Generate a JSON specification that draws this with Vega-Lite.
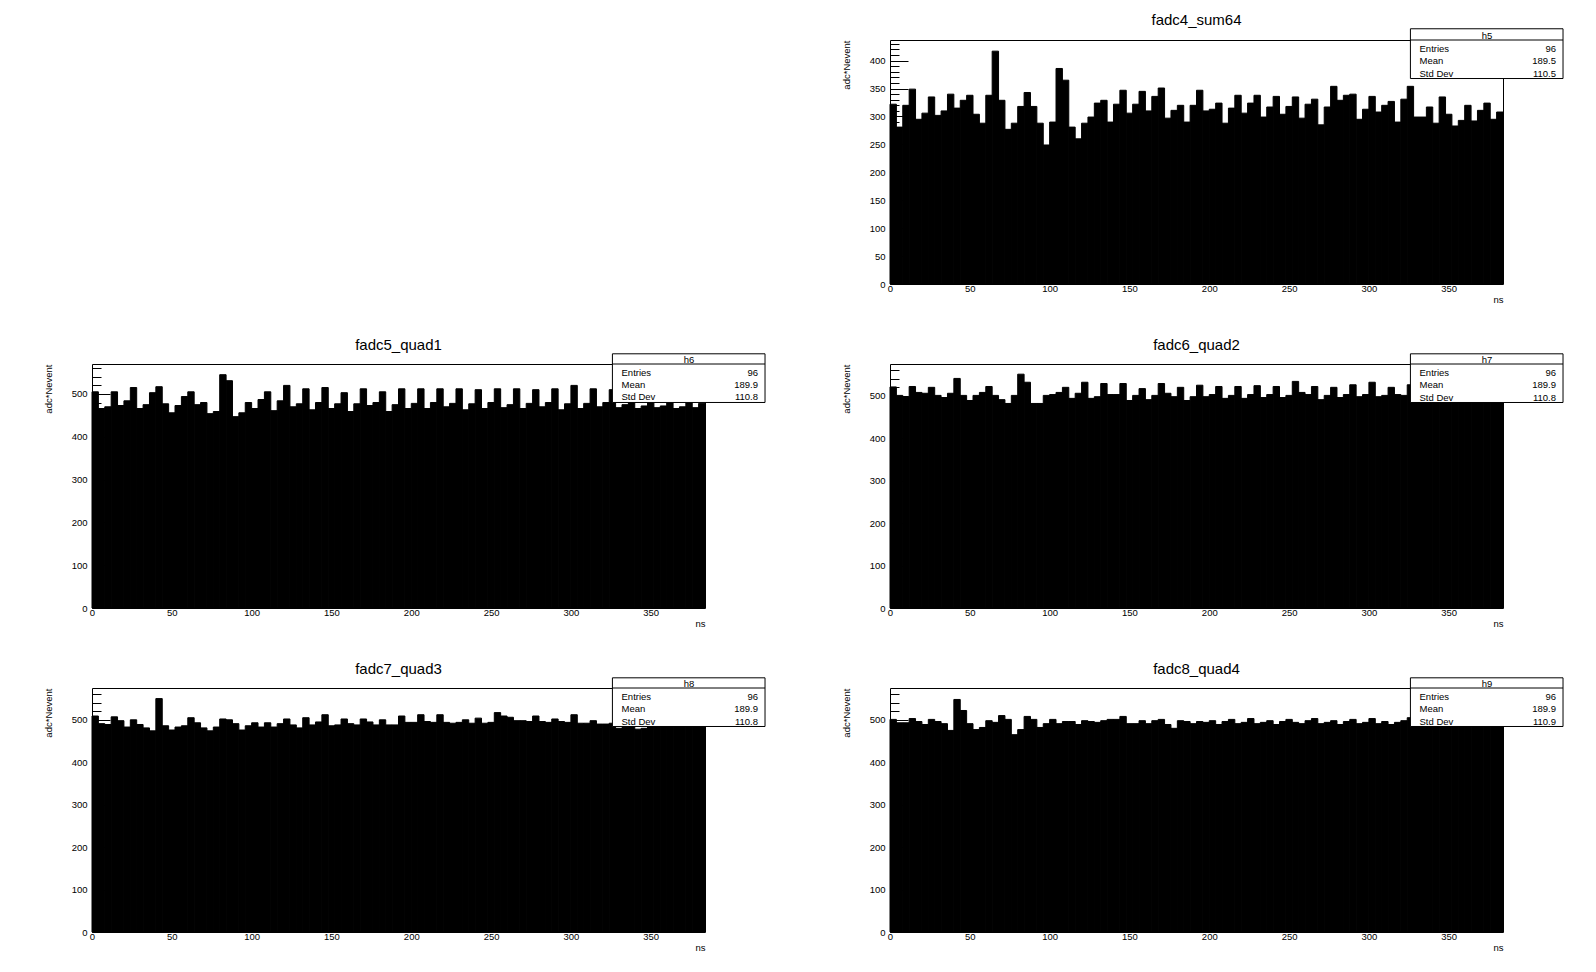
{
"$schema": "https://vega.github.io/schema/vega-lite/v6.json",
"background": "white",
"padding": {"left": 42, "top": 12, "right": 0, "bottom": 0},
"columns": 2,
"spacing": {"row": 80, "column": 185},
"bounds": "flush",
"datasets": {
"sum64": [
{"ns":0,"ns2":4,"adc":322},{"ns":4,"ns2":8,"adc":281},{"ns":8,"ns2":12,"adc":320},{"ns":12,"ns2":16,"adc":349},{"ns":16,"ns2":20,"adc":295},{"ns":20,"ns2":24,"adc":306},{"ns":24,"ns2":28,"adc":335},{"ns":28,"ns2":32,"adc":302},{"ns":32,"ns2":36,"adc":310},{"ns":36,"ns2":40,"adc":340},
{"ns":40,"ns2":44,"adc":315},{"ns":44,"ns2":48,"adc":329},{"ns":48,"ns2":52,"adc":338},{"ns":52,"ns2":56,"adc":304},{"ns":56,"ns2":60,"adc":288},{"ns":60,"ns2":64,"adc":338},{"ns":64,"ns2":68,"adc":417},{"ns":68,"ns2":72,"adc":329},{"ns":72,"ns2":76,"adc":277},{"ns":76,"ns2":80,"adc":288},
{"ns":80,"ns2":84,"adc":318},{"ns":84,"ns2":88,"adc":343},{"ns":88,"ns2":92,"adc":318},{"ns":92,"ns2":96,"adc":288},{"ns":96,"ns2":100,"adc":249},{"ns":100,"ns2":104,"adc":290},{"ns":104,"ns2":108,"adc":386},{"ns":108,"ns2":112,"adc":365},{"ns":112,"ns2":116,"adc":281},{"ns":116,"ns2":120,"adc":260},
{"ns":120,"ns2":124,"adc":288},{"ns":124,"ns2":128,"adc":299},{"ns":128,"ns2":132,"adc":324},{"ns":132,"ns2":136,"adc":329},{"ns":136,"ns2":140,"adc":290},{"ns":140,"ns2":144,"adc":322},{"ns":144,"ns2":148,"adc":347},{"ns":148,"ns2":152,"adc":306},{"ns":152,"ns2":156,"adc":322},{"ns":156,"ns2":160,"adc":345},
{"ns":160,"ns2":164,"adc":310},{"ns":164,"ns2":168,"adc":336},{"ns":168,"ns2":172,"adc":351},{"ns":172,"ns2":176,"adc":297},{"ns":176,"ns2":180,"adc":311},{"ns":180,"ns2":184,"adc":320},{"ns":184,"ns2":188,"adc":290},{"ns":188,"ns2":192,"adc":320},{"ns":192,"ns2":196,"adc":347},{"ns":196,"ns2":200,"adc":310},
{"ns":200,"ns2":204,"adc":313},{"ns":204,"ns2":208,"adc":324},{"ns":208,"ns2":212,"adc":288},{"ns":212,"ns2":216,"adc":315},{"ns":216,"ns2":220,"adc":338},{"ns":220,"ns2":224,"adc":306},{"ns":224,"ns2":228,"adc":324},{"ns":228,"ns2":232,"adc":338},{"ns":232,"ns2":236,"adc":299},{"ns":236,"ns2":240,"adc":317},
{"ns":240,"ns2":244,"adc":336},{"ns":244,"ns2":248,"adc":304},{"ns":248,"ns2":252,"adc":318},{"ns":252,"ns2":256,"adc":335},{"ns":256,"ns2":260,"adc":297},{"ns":260,"ns2":264,"adc":322},{"ns":264,"ns2":268,"adc":331},{"ns":268,"ns2":272,"adc":285},{"ns":272,"ns2":276,"adc":317},{"ns":276,"ns2":280,"adc":354},
{"ns":280,"ns2":284,"adc":329},{"ns":284,"ns2":288,"adc":338},{"ns":288,"ns2":292,"adc":340},{"ns":292,"ns2":296,"adc":295},{"ns":296,"ns2":300,"adc":313},{"ns":300,"ns2":304,"adc":336},{"ns":304,"ns2":308,"adc":308},{"ns":308,"ns2":312,"adc":320},{"ns":312,"ns2":316,"adc":327},{"ns":316,"ns2":320,"adc":290},
{"ns":320,"ns2":324,"adc":331},{"ns":324,"ns2":328,"adc":354},{"ns":328,"ns2":332,"adc":299},{"ns":332,"ns2":336,"adc":299},{"ns":336,"ns2":340,"adc":317},{"ns":340,"ns2":344,"adc":288},{"ns":344,"ns2":348,"adc":335},{"ns":348,"ns2":352,"adc":304},{"ns":352,"ns2":356,"adc":283},{"ns":356,"ns2":360,"adc":293},
{"ns":360,"ns2":364,"adc":320},{"ns":364,"ns2":368,"adc":292},{"ns":368,"ns2":372,"adc":311},{"ns":372,"ns2":376,"adc":324},{"ns":376,"ns2":380,"adc":295},{"ns":380,"ns2":384,"adc":308}
],
"quad1": [
{"ns":0,"ns2":4,"adc":505},{"ns":4,"ns2":8,"adc":466},{"ns":8,"ns2":12,"adc":470},{"ns":12,"ns2":16,"adc":505},{"ns":16,"ns2":20,"adc":473},{"ns":20,"ns2":24,"adc":484},{"ns":24,"ns2":28,"adc":515},{"ns":28,"ns2":32,"adc":466},{"ns":32,"ns2":36,"adc":475},{"ns":36,"ns2":40,"adc":503},
{"ns":40,"ns2":44,"adc":517},{"ns":44,"ns2":48,"adc":477},{"ns":48,"ns2":52,"adc":456},{"ns":52,"ns2":56,"adc":473},{"ns":56,"ns2":60,"adc":494},{"ns":60,"ns2":64,"adc":505},{"ns":64,"ns2":68,"adc":475},{"ns":68,"ns2":72,"adc":480},{"ns":72,"ns2":76,"adc":454},{"ns":76,"ns2":80,"adc":459},
{"ns":80,"ns2":84,"adc":545},{"ns":84,"ns2":88,"adc":531},{"ns":88,"ns2":92,"adc":447},{"ns":92,"ns2":96,"adc":456},{"ns":96,"ns2":100,"adc":480},{"ns":100,"ns2":104,"adc":466},{"ns":104,"ns2":108,"adc":487},{"ns":108,"ns2":112,"adc":505},{"ns":112,"ns2":116,"adc":461},{"ns":116,"ns2":120,"adc":484},
{"ns":120,"ns2":124,"adc":520},{"ns":124,"ns2":128,"adc":470},{"ns":128,"ns2":132,"adc":477},{"ns":132,"ns2":136,"adc":512},{"ns":136,"ns2":140,"adc":463},{"ns":140,"ns2":144,"adc":480},{"ns":144,"ns2":148,"adc":515},{"ns":148,"ns2":152,"adc":466},{"ns":152,"ns2":156,"adc":477},{"ns":156,"ns2":160,"adc":503},
{"ns":160,"ns2":164,"adc":459},{"ns":164,"ns2":168,"adc":477},{"ns":168,"ns2":172,"adc":512},{"ns":172,"ns2":176,"adc":473},{"ns":176,"ns2":180,"adc":480},{"ns":180,"ns2":184,"adc":505},{"ns":184,"ns2":188,"adc":459},{"ns":188,"ns2":192,"adc":475},{"ns":192,"ns2":196,"adc":512},{"ns":196,"ns2":200,"adc":466},
{"ns":200,"ns2":204,"adc":478},{"ns":204,"ns2":208,"adc":512},{"ns":208,"ns2":212,"adc":466},{"ns":212,"ns2":216,"adc":480},{"ns":216,"ns2":220,"adc":512},{"ns":220,"ns2":224,"adc":470},{"ns":224,"ns2":228,"adc":478},{"ns":228,"ns2":232,"adc":512},{"ns":232,"ns2":236,"adc":463},{"ns":236,"ns2":240,"adc":477},
{"ns":240,"ns2":244,"adc":510},{"ns":244,"ns2":248,"adc":466},{"ns":248,"ns2":252,"adc":480},{"ns":252,"ns2":256,"adc":512},{"ns":256,"ns2":260,"adc":468},{"ns":260,"ns2":264,"adc":475},{"ns":264,"ns2":268,"adc":512},{"ns":268,"ns2":272,"adc":466},{"ns":272,"ns2":276,"adc":478},{"ns":276,"ns2":280,"adc":510},
{"ns":280,"ns2":284,"adc":470},{"ns":284,"ns2":288,"adc":480},{"ns":288,"ns2":292,"adc":512},{"ns":292,"ns2":296,"adc":463},{"ns":296,"ns2":300,"adc":477},{"ns":300,"ns2":304,"adc":520},{"ns":304,"ns2":308,"adc":466},{"ns":308,"ns2":312,"adc":478},{"ns":312,"ns2":316,"adc":512},{"ns":316,"ns2":320,"adc":470},
{"ns":320,"ns2":324,"adc":480},{"ns":324,"ns2":328,"adc":510},{"ns":328,"ns2":332,"adc":468},{"ns":332,"ns2":336,"adc":475},{"ns":336,"ns2":340,"adc":510},{"ns":340,"ns2":344,"adc":466},{"ns":344,"ns2":348,"adc":472},{"ns":348,"ns2":352,"adc":510},{"ns":352,"ns2":356,"adc":468},{"ns":356,"ns2":360,"adc":472},
{"ns":360,"ns2":364,"adc":510},{"ns":364,"ns2":368,"adc":466},{"ns":368,"ns2":372,"adc":470},{"ns":372,"ns2":376,"adc":510},{"ns":376,"ns2":380,"adc":468},{"ns":380,"ns2":384,"adc":478}
],
"quad2": [
{"ns":0,"ns2":4,"adc":521},{"ns":4,"ns2":8,"adc":501},{"ns":8,"ns2":12,"adc":498},{"ns":12,"ns2":16,"adc":522},{"ns":16,"ns2":20,"adc":508},{"ns":20,"ns2":24,"adc":506},{"ns":24,"ns2":28,"adc":520},{"ns":28,"ns2":32,"adc":501},{"ns":32,"ns2":36,"adc":496},{"ns":36,"ns2":40,"adc":506},
{"ns":40,"ns2":44,"adc":541},{"ns":44,"ns2":48,"adc":501},{"ns":48,"ns2":52,"adc":489},{"ns":52,"ns2":56,"adc":501},{"ns":56,"ns2":60,"adc":508},{"ns":60,"ns2":64,"adc":522},{"ns":64,"ns2":68,"adc":501},{"ns":68,"ns2":72,"adc":491},{"ns":72,"ns2":76,"adc":482},{"ns":76,"ns2":80,"adc":501},
{"ns":80,"ns2":84,"adc":551},{"ns":84,"ns2":88,"adc":532},{"ns":88,"ns2":92,"adc":482},{"ns":92,"ns2":96,"adc":482},{"ns":96,"ns2":100,"adc":501},{"ns":100,"ns2":104,"adc":503},{"ns":104,"ns2":108,"adc":508},{"ns":108,"ns2":112,"adc":520},{"ns":112,"ns2":116,"adc":494},{"ns":116,"ns2":120,"adc":506},
{"ns":120,"ns2":124,"adc":532},{"ns":124,"ns2":128,"adc":494},{"ns":128,"ns2":132,"adc":498},{"ns":132,"ns2":136,"adc":529},{"ns":136,"ns2":140,"adc":503},{"ns":140,"ns2":144,"adc":503},{"ns":144,"ns2":148,"adc":529},{"ns":148,"ns2":152,"adc":489},{"ns":152,"ns2":156,"adc":501},{"ns":156,"ns2":160,"adc":517},
{"ns":160,"ns2":164,"adc":491},{"ns":164,"ns2":168,"adc":501},{"ns":168,"ns2":172,"adc":529},{"ns":172,"ns2":176,"adc":506},{"ns":176,"ns2":180,"adc":498},{"ns":180,"ns2":184,"adc":520},{"ns":184,"ns2":188,"adc":489},{"ns":188,"ns2":192,"adc":498},{"ns":192,"ns2":196,"adc":525},{"ns":196,"ns2":200,"adc":498},
{"ns":200,"ns2":204,"adc":503},{"ns":204,"ns2":208,"adc":522},{"ns":208,"ns2":212,"adc":494},{"ns":212,"ns2":216,"adc":501},{"ns":216,"ns2":220,"adc":522},{"ns":220,"ns2":224,"adc":494},{"ns":224,"ns2":228,"adc":503},{"ns":228,"ns2":232,"adc":524},{"ns":232,"ns2":236,"adc":496},{"ns":236,"ns2":240,"adc":503},
{"ns":240,"ns2":244,"adc":522},{"ns":244,"ns2":248,"adc":496},{"ns":248,"ns2":252,"adc":501},{"ns":252,"ns2":256,"adc":534},{"ns":256,"ns2":260,"adc":508},{"ns":260,"ns2":264,"adc":503},{"ns":264,"ns2":268,"adc":522},{"ns":268,"ns2":272,"adc":491},{"ns":272,"ns2":276,"adc":501},{"ns":276,"ns2":280,"adc":520},
{"ns":280,"ns2":284,"adc":496},{"ns":284,"ns2":288,"adc":503},{"ns":288,"ns2":292,"adc":526},{"ns":292,"ns2":296,"adc":498},{"ns":296,"ns2":300,"adc":503},{"ns":300,"ns2":304,"adc":532},{"ns":304,"ns2":308,"adc":498},{"ns":308,"ns2":312,"adc":501},{"ns":312,"ns2":316,"adc":520},{"ns":316,"ns2":320,"adc":503},
{"ns":320,"ns2":324,"adc":501},{"ns":324,"ns2":328,"adc":526},{"ns":328,"ns2":332,"adc":498},{"ns":332,"ns2":336,"adc":503},{"ns":336,"ns2":340,"adc":522},{"ns":340,"ns2":344,"adc":496},{"ns":344,"ns2":348,"adc":501},{"ns":348,"ns2":352,"adc":522},{"ns":352,"ns2":356,"adc":498},{"ns":356,"ns2":360,"adc":503},
{"ns":360,"ns2":364,"adc":520},{"ns":364,"ns2":368,"adc":496},{"ns":368,"ns2":372,"adc":501},{"ns":372,"ns2":376,"adc":522},{"ns":376,"ns2":380,"adc":498},{"ns":380,"ns2":384,"adc":501}
],
"quad3": [
{"ns":0,"ns2":4,"adc":509},{"ns":4,"ns2":8,"adc":491},{"ns":8,"ns2":12,"adc":489},{"ns":12,"ns2":16,"adc":507},{"ns":16,"ns2":20,"adc":498},{"ns":20,"ns2":24,"adc":483},{"ns":24,"ns2":28,"adc":500},{"ns":28,"ns2":32,"adc":489},{"ns":32,"ns2":36,"adc":481},{"ns":36,"ns2":40,"adc":474},
{"ns":40,"ns2":44,"adc":550},{"ns":44,"ns2":48,"adc":486},{"ns":48,"ns2":52,"adc":476},{"ns":52,"ns2":56,"adc":483},{"ns":56,"ns2":60,"adc":486},{"ns":60,"ns2":64,"adc":505},{"ns":64,"ns2":68,"adc":493},{"ns":68,"ns2":72,"adc":481},{"ns":72,"ns2":76,"adc":474},{"ns":76,"ns2":80,"adc":483},
{"ns":80,"ns2":84,"adc":502},{"ns":84,"ns2":88,"adc":500},{"ns":88,"ns2":92,"adc":491},{"ns":92,"ns2":96,"adc":476},{"ns":96,"ns2":100,"adc":486},{"ns":100,"ns2":104,"adc":493},{"ns":104,"ns2":108,"adc":483},{"ns":108,"ns2":112,"adc":493},{"ns":112,"ns2":116,"adc":483},{"ns":116,"ns2":120,"adc":491},
{"ns":120,"ns2":124,"adc":502},{"ns":124,"ns2":128,"adc":488},{"ns":128,"ns2":132,"adc":481},{"ns":132,"ns2":136,"adc":505},{"ns":136,"ns2":140,"adc":488},{"ns":140,"ns2":144,"adc":495},{"ns":144,"ns2":148,"adc":512},{"ns":148,"ns2":152,"adc":486},{"ns":152,"ns2":156,"adc":488},{"ns":156,"ns2":160,"adc":502},
{"ns":160,"ns2":164,"adc":491},{"ns":164,"ns2":168,"adc":488},{"ns":168,"ns2":172,"adc":502},{"ns":172,"ns2":176,"adc":495},{"ns":176,"ns2":180,"adc":488},{"ns":180,"ns2":184,"adc":500},{"ns":184,"ns2":188,"adc":488},{"ns":188,"ns2":192,"adc":488},{"ns":192,"ns2":196,"adc":509},{"ns":196,"ns2":200,"adc":494},
{"ns":200,"ns2":204,"adc":494},{"ns":204,"ns2":208,"adc":512},{"ns":208,"ns2":212,"adc":496},{"ns":212,"ns2":216,"adc":494},{"ns":216,"ns2":220,"adc":512},{"ns":220,"ns2":224,"adc":494},{"ns":224,"ns2":228,"adc":492},{"ns":228,"ns2":232,"adc":494},{"ns":232,"ns2":236,"adc":500},{"ns":236,"ns2":240,"adc":492},
{"ns":240,"ns2":244,"adc":504},{"ns":244,"ns2":248,"adc":492},{"ns":248,"ns2":252,"adc":494},{"ns":252,"ns2":256,"adc":517},{"ns":256,"ns2":260,"adc":509},{"ns":260,"ns2":264,"adc":506},{"ns":264,"ns2":268,"adc":498},{"ns":268,"ns2":272,"adc":498},{"ns":272,"ns2":276,"adc":496},{"ns":276,"ns2":280,"adc":509},
{"ns":280,"ns2":284,"adc":496},{"ns":284,"ns2":288,"adc":494},{"ns":288,"ns2":292,"adc":502},{"ns":292,"ns2":296,"adc":496},{"ns":296,"ns2":300,"adc":494},{"ns":300,"ns2":304,"adc":512},{"ns":304,"ns2":308,"adc":492},{"ns":308,"ns2":312,"adc":492},{"ns":312,"ns2":316,"adc":498},{"ns":316,"ns2":320,"adc":490},
{"ns":320,"ns2":324,"adc":490},{"ns":324,"ns2":328,"adc":492},{"ns":328,"ns2":332,"adc":480},{"ns":332,"ns2":336,"adc":482},{"ns":336,"ns2":340,"adc":490},{"ns":340,"ns2":344,"adc":478},{"ns":344,"ns2":348,"adc":480},{"ns":348,"ns2":352,"adc":490},{"ns":352,"ns2":356,"adc":488},{"ns":356,"ns2":360,"adc":486},
{"ns":360,"ns2":364,"adc":490},{"ns":364,"ns2":368,"adc":488},{"ns":368,"ns2":372,"adc":486},{"ns":372,"ns2":376,"adc":490},{"ns":376,"ns2":380,"adc":488},{"ns":380,"ns2":384,"adc":486}
],
"quad4": [
{"ns":0,"ns2":4,"adc":501},{"ns":4,"ns2":8,"adc":493},{"ns":8,"ns2":12,"adc":493},{"ns":12,"ns2":16,"adc":503},{"ns":16,"ns2":20,"adc":496},{"ns":20,"ns2":24,"adc":489},{"ns":24,"ns2":28,"adc":501},{"ns":28,"ns2":32,"adc":496},{"ns":32,"ns2":36,"adc":491},{"ns":36,"ns2":40,"adc":475},
{"ns":40,"ns2":44,"adc":548},{"ns":44,"ns2":48,"adc":522},{"ns":48,"ns2":52,"adc":491},{"ns":52,"ns2":56,"adc":477},{"ns":56,"ns2":60,"adc":482},{"ns":60,"ns2":64,"adc":498},{"ns":64,"ns2":68,"adc":494},{"ns":68,"ns2":72,"adc":510},{"ns":72,"ns2":76,"adc":501},{"ns":76,"ns2":80,"adc":465},
{"ns":80,"ns2":84,"adc":477},{"ns":84,"ns2":88,"adc":508},{"ns":88,"ns2":92,"adc":501},{"ns":92,"ns2":96,"adc":482},{"ns":96,"ns2":100,"adc":491},{"ns":100,"ns2":104,"adc":501},{"ns":104,"ns2":108,"adc":491},{"ns":108,"ns2":112,"adc":496},{"ns":112,"ns2":116,"adc":496},{"ns":116,"ns2":120,"adc":489},
{"ns":120,"ns2":124,"adc":498},{"ns":124,"ns2":128,"adc":496},{"ns":128,"ns2":132,"adc":494},{"ns":132,"ns2":136,"adc":498},{"ns":136,"ns2":140,"adc":501},{"ns":140,"ns2":144,"adc":501},{"ns":144,"ns2":148,"adc":508},{"ns":148,"ns2":152,"adc":491},{"ns":152,"ns2":156,"adc":491},{"ns":156,"ns2":160,"adc":498},
{"ns":160,"ns2":164,"adc":491},{"ns":164,"ns2":168,"adc":498},{"ns":168,"ns2":172,"adc":501},{"ns":172,"ns2":176,"adc":489},{"ns":176,"ns2":180,"adc":480},{"ns":180,"ns2":184,"adc":498},{"ns":184,"ns2":188,"adc":496},{"ns":188,"ns2":192,"adc":491},{"ns":192,"ns2":196,"adc":496},{"ns":196,"ns2":200,"adc":494},
{"ns":200,"ns2":204,"adc":498},{"ns":204,"ns2":208,"adc":489},{"ns":208,"ns2":212,"adc":496},{"ns":212,"ns2":216,"adc":501},{"ns":216,"ns2":220,"adc":491},{"ns":220,"ns2":224,"adc":494},{"ns":224,"ns2":228,"adc":503},{"ns":228,"ns2":232,"adc":491},{"ns":232,"ns2":236,"adc":494},{"ns":236,"ns2":240,"adc":498},
{"ns":240,"ns2":244,"adc":489},{"ns":244,"ns2":248,"adc":496},{"ns":248,"ns2":252,"adc":501},{"ns":252,"ns2":256,"adc":494},{"ns":256,"ns2":260,"adc":491},{"ns":260,"ns2":264,"adc":498},{"ns":264,"ns2":268,"adc":503},{"ns":268,"ns2":272,"adc":491},{"ns":272,"ns2":276,"adc":494},{"ns":276,"ns2":280,"adc":498},
{"ns":280,"ns2":284,"adc":489},{"ns":284,"ns2":288,"adc":496},{"ns":288,"ns2":292,"adc":501},{"ns":292,"ns2":296,"adc":491},{"ns":296,"ns2":300,"adc":494},{"ns":300,"ns2":304,"adc":503},{"ns":304,"ns2":308,"adc":491},{"ns":308,"ns2":312,"adc":496},{"ns":312,"ns2":316,"adc":489},{"ns":316,"ns2":320,"adc":494},
{"ns":320,"ns2":324,"adc":498},{"ns":324,"ns2":328,"adc":505},{"ns":328,"ns2":332,"adc":491},{"ns":332,"ns2":336,"adc":494},{"ns":336,"ns2":340,"adc":498},{"ns":340,"ns2":344,"adc":494},{"ns":344,"ns2":348,"adc":496},{"ns":348,"ns2":352,"adc":498},{"ns":352,"ns2":356,"adc":494},{"ns":356,"ns2":360,"adc":496},
{"ns":360,"ns2":364,"adc":498},{"ns":364,"ns2":368,"adc":494},{"ns":368,"ns2":372,"adc":496},{"ns":372,"ns2":376,"adc":498},{"ns":376,"ns2":380,"adc":494},{"ns":380,"ns2":384,"adc":496}
]
},
"concat": [
{"width": 613, "height": 244, "view": {"stroke": null}, "data": {"values": [{}]}, "mark": {"type": "point", "opacity": 0}, "encoding": {}},
{"width": 613, "height": 244, "title": "fadc4_sum64", "resolve": {"axis": {"x": "independent", "y": "independent"}},
 "layer": [
  {"data": {"name": "sum64"}, "mark": {"type": "rect", "fill": "black", "stroke": "black", "strokeWidth": 1},
   "encoding": {
    "x": {"field": "ns", "type": "quantitative", "scale": {"domain": [0, 384], "nice": false, "zero": false}, "axis": {"title": "ns", "values": [0,50,100,150,200,250,300,350], "ticks": false, "labelPadding": -1, "titleAnchor": "end", "titleAlign": "right", "titlePadding": 2}},
    "x2": {"field": "ns2"},
    "y": {"field": "adc", "type": "quantitative", "scale": {"domain": [0, 437], "nice": false}, "axis": {"orient": "left", "title": "adc*Nevent", "values": [0,50,100,150,200,250,300,350,400], "tickSize": -18, "labelPadding": 23, "titleAnchor": "end", "titlePadding": 18}}}},
  {"data": {"name": "sum64"}, "mark": {"type": "rule", "opacity": 0},
   "encoding": {"y": {"field": "adc", "type": "quantitative", "axis": {"orient": "left", "title": null, "labels": false, "tickSize": -9, "values": [10,20,30,40,60,70,80,90,110,120,130,140,160,170,180,190,210,220,230,240,260,270,280,290,310,320,330,340,360,370,380,390,410,420,430]}}}},
  {"data": {"values": [{"name": "h5", "entries": 96, "mean": 189.5, "sd": 110.5}]},
   "layer": [
    {"mark": {"type": "rect", "fill": "white", "stroke": "black", "strokeWidth": 1}, "encoding": {"x": {"datum": 326, "type": "quantitative", "axis": null}, "x2": {"datum": 421.6}, "y": {"datum": 457.1, "type": "quantitative", "axis": null}, "y2": {"datum": 368.0}}},
    {"mark": {"type": "rule", "color": "black", "strokeWidth": 1}, "encoding": {"x": {"datum": 326, "type": "quantitative", "axis": null}, "x2": {"datum": 421.6}, "y": {"datum": 437, "type": "quantitative", "axis": null}}},
    {"mark": {"type": "text", "align": "center", "baseline": "middle", "fontSize": 9.5}, "encoding": {"x": {"datum": 374, "type": "quantitative", "axis": null}, "y": {"datum": 444.3, "type": "quantitative", "axis": null}, "text": {"field": "name"}}},
    {"mark": {"type": "text", "align": "left", "baseline": "middle", "fontSize": 9.5}, "encoding": {"x": {"datum": 331.7, "type": "quantitative", "axis": null}, "y": {"datum": 420.9, "type": "quantitative", "axis": null}, "text": {"value": "Entries"}}},
    {"mark": {"type": "text", "align": "left", "baseline": "middle", "fontSize": 9.5}, "encoding": {"x": {"datum": 331.7, "type": "quantitative", "axis": null}, "y": {"datum": 399.0, "type": "quantitative", "axis": null}, "text": {"value": "Mean"}}},
    {"mark": {"type": "text", "align": "left", "baseline": "middle", "fontSize": 9.5}, "encoding": {"x": {"datum": 331.7, "type": "quantitative", "axis": null}, "y": {"datum": 377.0, "type": "quantitative", "axis": null}, "text": {"value": "Std Dev"}}},
    {"mark": {"type": "text", "align": "right", "baseline": "middle", "fontSize": 9.5}, "encoding": {"x": {"datum": 417.2, "type": "quantitative", "axis": null}, "y": {"datum": 420.9, "type": "quantitative", "axis": null}, "text": {"field": "entries", "type": "quantitative", "format": "d"}}},
    {"mark": {"type": "text", "align": "right", "baseline": "middle", "fontSize": 9.5}, "encoding": {"x": {"datum": 417.2, "type": "quantitative", "axis": null}, "y": {"datum": 399.0, "type": "quantitative", "axis": null}, "text": {"field": "mean", "type": "quantitative", "format": ".1f"}}},
    {"mark": {"type": "text", "align": "right", "baseline": "middle", "fontSize": 9.5}, "encoding": {"x": {"datum": 417.2, "type": "quantitative", "axis": null}, "y": {"datum": 377.0, "type": "quantitative", "axis": null}, "text": {"field": "sd", "type": "quantitative", "format": ".1f"}}}
   ]}
 ]},
{"width": 613, "height": 244, "title": "fadc5_quad1", "resolve": {"axis": {"x": "independent", "y": "independent"}},
 "layer": [
  {"data": {"name": "quad1"}, "mark": {"type": "rect", "fill": "black", "stroke": "black", "strokeWidth": 1},
   "encoding": {
    "x": {"field": "ns", "type": "quantitative", "scale": {"domain": [0, 384], "nice": false, "zero": false}, "axis": {"title": "ns", "values": [0,50,100,150,200,250,300,350], "ticks": false, "labelPadding": -1, "titleAnchor": "end", "titleAlign": "right", "titlePadding": 2}},
    "x2": {"field": "ns2"},
    "y": {"field": "adc", "type": "quantitative", "scale": {"domain": [0, 570], "nice": false}, "axis": {"orient": "left", "title": "adc*Nevent", "values": [0,100,200,300,400,500], "tickSize": -18, "labelPadding": 23, "titleAnchor": "end", "titlePadding": 18}}}},
  {"data": {"name": "quad1"}, "mark": {"type": "rule", "opacity": 0},
   "encoding": {"y": {"field": "adc", "type": "quantitative", "axis": {"orient": "left", "title": null, "labels": false, "tickSize": -9, "values": [20,40,60,80,120,140,160,180,220,240,260,280,320,340,360,380,420,440,460,480,520,540,560]}}}},
  {"data": {"values": [{"name": "h6", "entries": 96, "mean": 189.9, "sd": 110.8}]},
   "layer": [
    {"mark": {"type": "rect", "fill": "white", "stroke": "black", "strokeWidth": 1}, "encoding": {"x": {"datum": 326, "type": "quantitative", "axis": null}, "x2": {"datum": 421.6}, "y": {"datum": 593.8, "type": "quantitative", "axis": null}, "y2": {"datum": 480.1}}},
    {"mark": {"type": "rule", "color": "black", "strokeWidth": 1}, "encoding": {"x": {"datum": 326, "type": "quantitative", "axis": null}, "x2": {"datum": 421.6}, "y": {"datum": 570, "type": "quantitative", "axis": null}}},
    {"mark": {"type": "text", "align": "center", "baseline": "middle", "fontSize": 9.5}, "encoding": {"x": {"datum": 374, "type": "quantitative", "axis": null}, "y": {"datum": 579.5, "type": "quantitative", "axis": null}, "text": {"field": "name"}}},
    {"mark": {"type": "text", "align": "left", "baseline": "middle", "fontSize": 9.5}, "encoding": {"x": {"datum": 331.7, "type": "quantitative", "axis": null}, "y": {"datum": 549.0, "type": "quantitative", "axis": null}, "text": {"value": "Entries"}}},
    {"mark": {"type": "text", "align": "left", "baseline": "middle", "fontSize": 9.5}, "encoding": {"x": {"datum": 331.7, "type": "quantitative", "axis": null}, "y": {"datum": 520.5, "type": "quantitative", "axis": null}, "text": {"value": "Mean"}}},
    {"mark": {"type": "text", "align": "left", "baseline": "middle", "fontSize": 9.5}, "encoding": {"x": {"datum": 331.7, "type": "quantitative", "axis": null}, "y": {"datum": 491.8, "type": "quantitative", "axis": null}, "text": {"value": "Std Dev"}}},
    {"mark": {"type": "text", "align": "right", "baseline": "middle", "fontSize": 9.5}, "encoding": {"x": {"datum": 417.2, "type": "quantitative", "axis": null}, "y": {"datum": 549.0, "type": "quantitative", "axis": null}, "text": {"field": "entries", "type": "quantitative", "format": "d"}}},
    {"mark": {"type": "text", "align": "right", "baseline": "middle", "fontSize": 9.5}, "encoding": {"x": {"datum": 417.2, "type": "quantitative", "axis": null}, "y": {"datum": 520.5, "type": "quantitative", "axis": null}, "text": {"field": "mean", "type": "quantitative", "format": ".1f"}}},
    {"mark": {"type": "text", "align": "right", "baseline": "middle", "fontSize": 9.5}, "encoding": {"x": {"datum": 417.2, "type": "quantitative", "axis": null}, "y": {"datum": 491.8, "type": "quantitative", "axis": null}, "text": {"field": "sd", "type": "quantitative", "format": ".1f"}}}
   ]}
 ]},
{"width": 613, "height": 244, "title": "fadc6_quad2", "resolve": {"axis": {"x": "independent", "y": "independent"}},
 "layer": [
  {"data": {"name": "quad2"}, "mark": {"type": "rect", "fill": "black", "stroke": "black", "strokeWidth": 1},
   "encoding": {
    "x": {"field": "ns", "type": "quantitative", "scale": {"domain": [0, 384], "nice": false, "zero": false}, "axis": {"title": "ns", "values": [0,50,100,150,200,250,300,350], "ticks": false, "labelPadding": -1, "titleAnchor": "end", "titleAlign": "right", "titlePadding": 2}},
    "x2": {"field": "ns2"},
    "y": {"field": "adc", "type": "quantitative", "scale": {"domain": [0, 575], "nice": false}, "axis": {"orient": "left", "title": "adc*Nevent", "values": [0,100,200,300,400,500], "tickSize": -18, "labelPadding": 23, "titleAnchor": "end", "titlePadding": 18}}}},
  {"data": {"name": "quad2"}, "mark": {"type": "rule", "opacity": 0},
   "encoding": {"y": {"field": "adc", "type": "quantitative", "axis": {"orient": "left", "title": null, "labels": false, "tickSize": -9, "values": [20,40,60,80,120,140,160,180,220,240,260,280,320,340,360,380,420,440,460,480,520,540,560]}}}},
  {"data": {"values": [{"name": "h7", "entries": 96, "mean": 189.9, "sd": 110.8}]},
   "layer": [
    {"mark": {"type": "rect", "fill": "white", "stroke": "black", "strokeWidth": 1}, "encoding": {"x": {"datum": 326, "type": "quantitative", "axis": null}, "x2": {"datum": 421.6}, "y": {"datum": 599, "type": "quantitative", "axis": null}, "y2": {"datum": 484.3}}},
    {"mark": {"type": "rule", "color": "black", "strokeWidth": 1}, "encoding": {"x": {"datum": 326, "type": "quantitative", "axis": null}, "x2": {"datum": 421.6}, "y": {"datum": 575, "type": "quantitative", "axis": null}}},
    {"mark": {"type": "text", "align": "center", "baseline": "middle", "fontSize": 9.5}, "encoding": {"x": {"datum": 374, "type": "quantitative", "axis": null}, "y": {"datum": 584.7, "type": "quantitative", "axis": null}, "text": {"field": "name"}}},
    {"mark": {"type": "text", "align": "left", "baseline": "middle", "fontSize": 9.5}, "encoding": {"x": {"datum": 331.7, "type": "quantitative", "axis": null}, "y": {"datum": 553.7, "type": "quantitative", "axis": null}, "text": {"value": "Entries"}}},
    {"mark": {"type": "text", "align": "left", "baseline": "middle", "fontSize": 9.5}, "encoding": {"x": {"datum": 331.7, "type": "quantitative", "axis": null}, "y": {"datum": 525.0, "type": "quantitative", "axis": null}, "text": {"value": "Mean"}}},
    {"mark": {"type": "text", "align": "left", "baseline": "middle", "fontSize": 9.5}, "encoding": {"x": {"datum": 331.7, "type": "quantitative", "axis": null}, "y": {"datum": 496.0, "type": "quantitative", "axis": null}, "text": {"value": "Std Dev"}}},
    {"mark": {"type": "text", "align": "right", "baseline": "middle", "fontSize": 9.5}, "encoding": {"x": {"datum": 417.2, "type": "quantitative", "axis": null}, "y": {"datum": 553.7, "type": "quantitative", "axis": null}, "text": {"field": "entries", "type": "quantitative", "format": "d"}}},
    {"mark": {"type": "text", "align": "right", "baseline": "middle", "fontSize": 9.5}, "encoding": {"x": {"datum": 417.2, "type": "quantitative", "axis": null}, "y": {"datum": 525.0, "type": "quantitative", "axis": null}, "text": {"field": "mean", "type": "quantitative", "format": ".1f"}}},
    {"mark": {"type": "text", "align": "right", "baseline": "middle", "fontSize": 9.5}, "encoding": {"x": {"datum": 417.2, "type": "quantitative", "axis": null}, "y": {"datum": 496.0, "type": "quantitative", "axis": null}, "text": {"field": "sd", "type": "quantitative", "format": ".1f"}}}
   ]}
 ]},
{"width": 613, "height": 244, "title": "fadc7_quad3", "resolve": {"axis": {"x": "independent", "y": "independent"}},
 "layer": [
  {"data": {"name": "quad3"}, "mark": {"type": "rect", "fill": "black", "stroke": "black", "strokeWidth": 1},
   "encoding": {
    "x": {"field": "ns", "type": "quantitative", "scale": {"domain": [0, 384], "nice": false, "zero": false}, "axis": {"title": "ns", "values": [0,50,100,150,200,250,300,350], "ticks": false, "labelPadding": -1, "titleAnchor": "end", "titleAlign": "right", "titlePadding": 2}},
    "x2": {"field": "ns2"},
    "y": {"field": "adc", "type": "quantitative", "scale": {"domain": [0, 575], "nice": false}, "axis": {"orient": "left", "title": "adc*Nevent", "values": [0,100,200,300,400,500], "tickSize": -18, "labelPadding": 23, "titleAnchor": "end", "titlePadding": 18}}}},
  {"data": {"name": "quad3"}, "mark": {"type": "rule", "opacity": 0},
   "encoding": {"y": {"field": "adc", "type": "quantitative", "axis": {"orient": "left", "title": null, "labels": false, "tickSize": -9, "values": [20,40,60,80,120,140,160,180,220,240,260,280,320,340,360,380,420,440,460,480,520,540,560]}}}},
  {"data": {"values": [{"name": "h8", "entries": 96, "mean": 189.9, "sd": 110.8}]},
   "layer": [
    {"mark": {"type": "rect", "fill": "white", "stroke": "black", "strokeWidth": 1}, "encoding": {"x": {"datum": 326, "type": "quantitative", "axis": null}, "x2": {"datum": 421.6}, "y": {"datum": 599, "type": "quantitative", "axis": null}, "y2": {"datum": 484.3}}},
    {"mark": {"type": "rule", "color": "black", "strokeWidth": 1}, "encoding": {"x": {"datum": 326, "type": "quantitative", "axis": null}, "x2": {"datum": 421.6}, "y": {"datum": 575, "type": "quantitative", "axis": null}}},
    {"mark": {"type": "text", "align": "center", "baseline": "middle", "fontSize": 9.5}, "encoding": {"x": {"datum": 374, "type": "quantitative", "axis": null}, "y": {"datum": 584.7, "type": "quantitative", "axis": null}, "text": {"field": "name"}}},
    {"mark": {"type": "text", "align": "left", "baseline": "middle", "fontSize": 9.5}, "encoding": {"x": {"datum": 331.7, "type": "quantitative", "axis": null}, "y": {"datum": 553.7, "type": "quantitative", "axis": null}, "text": {"value": "Entries"}}},
    {"mark": {"type": "text", "align": "left", "baseline": "middle", "fontSize": 9.5}, "encoding": {"x": {"datum": 331.7, "type": "quantitative", "axis": null}, "y": {"datum": 525.0, "type": "quantitative", "axis": null}, "text": {"value": "Mean"}}},
    {"mark": {"type": "text", "align": "left", "baseline": "middle", "fontSize": 9.5}, "encoding": {"x": {"datum": 331.7, "type": "quantitative", "axis": null}, "y": {"datum": 496.0, "type": "quantitative", "axis": null}, "text": {"value": "Std Dev"}}},
    {"mark": {"type": "text", "align": "right", "baseline": "middle", "fontSize": 9.5}, "encoding": {"x": {"datum": 417.2, "type": "quantitative", "axis": null}, "y": {"datum": 553.7, "type": "quantitative", "axis": null}, "text": {"field": "entries", "type": "quantitative", "format": "d"}}},
    {"mark": {"type": "text", "align": "right", "baseline": "middle", "fontSize": 9.5}, "encoding": {"x": {"datum": 417.2, "type": "quantitative", "axis": null}, "y": {"datum": 525.0, "type": "quantitative", "axis": null}, "text": {"field": "mean", "type": "quantitative", "format": ".1f"}}},
    {"mark": {"type": "text", "align": "right", "baseline": "middle", "fontSize": 9.5}, "encoding": {"x": {"datum": 417.2, "type": "quantitative", "axis": null}, "y": {"datum": 496.0, "type": "quantitative", "axis": null}, "text": {"field": "sd", "type": "quantitative", "format": ".1f"}}}
   ]}
 ]},
{"width": 613, "height": 244, "title": "fadc8_quad4", "resolve": {"axis": {"x": "independent", "y": "independent"}},
 "layer": [
  {"data": {"name": "quad4"}, "mark": {"type": "rect", "fill": "black", "stroke": "black", "strokeWidth": 1},
   "encoding": {
    "x": {"field": "ns", "type": "quantitative", "scale": {"domain": [0, 384], "nice": false, "zero": false}, "axis": {"title": "ns", "values": [0,50,100,150,200,250,300,350], "ticks": false, "labelPadding": -1, "titleAnchor": "end", "titleAlign": "right", "titlePadding": 2}},
    "x2": {"field": "ns2"},
    "y": {"field": "adc", "type": "quantitative", "scale": {"domain": [0, 575], "nice": false}, "axis": {"orient": "left", "title": "adc*Nevent", "values": [0,100,200,300,400,500], "tickSize": -18, "labelPadding": 23, "titleAnchor": "end", "titlePadding": 18}}}},
  {"data": {"name": "quad4"}, "mark": {"type": "rule", "opacity": 0},
   "encoding": {"y": {"field": "adc", "type": "quantitative", "axis": {"orient": "left", "title": null, "labels": false, "tickSize": -9, "values": [20,40,60,80,120,140,160,180,220,240,260,280,320,340,360,380,420,440,460,480,520,540,560]}}}},
  {"data": {"values": [{"name": "h9", "entries": 96, "mean": 189.9, "sd": 110.9}]},
   "layer": [
    {"mark": {"type": "rect", "fill": "white", "stroke": "black", "strokeWidth": 1}, "encoding": {"x": {"datum": 326, "type": "quantitative", "axis": null}, "x2": {"datum": 421.6}, "y": {"datum": 599, "type": "quantitative", "axis": null}, "y2": {"datum": 484.3}}},
    {"mark": {"type": "rule", "color": "black", "strokeWidth": 1}, "encoding": {"x": {"datum": 326, "type": "quantitative", "axis": null}, "x2": {"datum": 421.6}, "y": {"datum": 575, "type": "quantitative", "axis": null}}},
    {"mark": {"type": "text", "align": "center", "baseline": "middle", "fontSize": 9.5}, "encoding": {"x": {"datum": 374, "type": "quantitative", "axis": null}, "y": {"datum": 584.7, "type": "quantitative", "axis": null}, "text": {"field": "name"}}},
    {"mark": {"type": "text", "align": "left", "baseline": "middle", "fontSize": 9.5}, "encoding": {"x": {"datum": 331.7, "type": "quantitative", "axis": null}, "y": {"datum": 553.7, "type": "quantitative", "axis": null}, "text": {"value": "Entries"}}},
    {"mark": {"type": "text", "align": "left", "baseline": "middle", "fontSize": 9.5}, "encoding": {"x": {"datum": 331.7, "type": "quantitative", "axis": null}, "y": {"datum": 525.0, "type": "quantitative", "axis": null}, "text": {"value": "Mean"}}},
    {"mark": {"type": "text", "align": "left", "baseline": "middle", "fontSize": 9.5}, "encoding": {"x": {"datum": 331.7, "type": "quantitative", "axis": null}, "y": {"datum": 496.0, "type": "quantitative", "axis": null}, "text": {"value": "Std Dev"}}},
    {"mark": {"type": "text", "align": "right", "baseline": "middle", "fontSize": 9.5}, "encoding": {"x": {"datum": 417.2, "type": "quantitative", "axis": null}, "y": {"datum": 553.7, "type": "quantitative", "axis": null}, "text": {"field": "entries", "type": "quantitative", "format": "d"}}},
    {"mark": {"type": "text", "align": "right", "baseline": "middle", "fontSize": 9.5}, "encoding": {"x": {"datum": 417.2, "type": "quantitative", "axis": null}, "y": {"datum": 525.0, "type": "quantitative", "axis": null}, "text": {"field": "mean", "type": "quantitative", "format": ".1f"}}},
    {"mark": {"type": "text", "align": "right", "baseline": "middle", "fontSize": 9.5}, "encoding": {"x": {"datum": 417.2, "type": "quantitative", "axis": null}, "y": {"datum": 496.0, "type": "quantitative", "axis": null}, "text": {"field": "sd", "type": "quantitative", "format": ".1f"}}}
   ]}
 ]}
],
"config": {
 "font": "Liberation Sans",
 "view": {"stroke": "black", "strokeWidth": 1},
 "axis": {"labelFont": "Liberation Sans", "labelFontSize": 9.5, "labelColor": "black", "titleFont": "Liberation Sans", "titleFontSize": 9.5, "titleFontWeight": "normal", "titleColor": "black", "grid": false, "domain": false, "tickColor": "black", "labelFlush": false, "labelOverlap": false},
 "title": {"font": "Liberation Sans", "fontSize": 15, "fontWeight": "normal", "color": "black", "offset": 0, "dy": 4},
 "text": {"font": "Liberation Sans", "fontSize": 9.5, "color": "black"}
}
}
